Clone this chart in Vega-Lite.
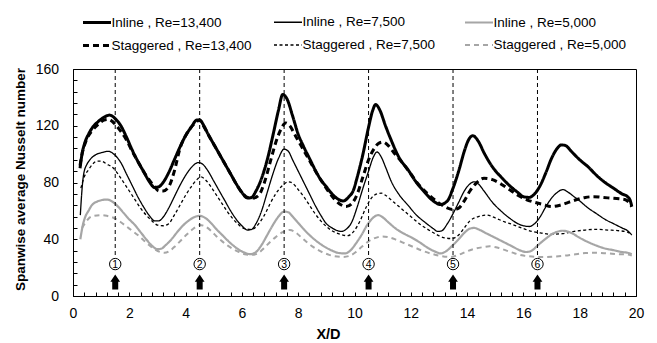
{
  "$schema": "https://vega.github.io/schema/vega-lite/v6.json",
  "autosize": "none",
  "padding": {"left": 73, "top": 69, "right": 21, "bottom": 47},
  "width": 563,
  "height": 227,
  "background": "white",
  "config": {
    "font": "Liberation Sans",
    "view": {"stroke": "black", "strokeWidth": 1},
    "axis": {"labelFont": "Liberation Sans", "titleFont": "Liberation Sans", "labelColor": "black", "titleColor": "black", "domainColor": "black", "tickColor": "black", "grid": false}
  },
  "resolve": {"axis": {"x": "independent", "y": "independent"}},
  "datasets": {
    "curves": [
      {"s":"Inline , Re=13,400","x":0.25,"y":90},{"s":"Inline , Re=13,400","x":0.32,"y":100},{"s":"Inline , Re=13,400","x":0.42,"y":108},{"s":"Inline , Re=13,400","x":0.55,"y":114},{"s":"Inline , Re=13,400","x":0.7,"y":119},{"s":"Inline , Re=13,400","x":0.9,"y":123},{"s":"Inline , Re=13,400","x":1.1,"y":126},{"s":"Inline , Re=13,400","x":1.3,"y":127.5},{"s":"Inline , Re=13,400","x":1.5,"y":125},{"s":"Inline , Re=13,400","x":1.7,"y":120},{"s":"Inline , Re=13,400","x":1.9,"y":112},{"s":"Inline , Re=13,400","x":2.1,"y":103},{"s":"Inline , Re=13,400","x":2.3,"y":95},{"s":"Inline , Re=13,400","x":2.5,"y":88},{"s":"Inline , Re=13,400","x":2.7,"y":81},{"s":"Inline , Re=13,400","x":2.9,"y":76.5},{"s":"Inline , Re=13,400","x":3.05,"y":77},{"s":"Inline , Re=13,400","x":3.2,"y":80},{"s":"Inline , Re=13,400","x":3.4,"y":87},{"s":"Inline , Re=13,400","x":3.6,"y":96},{"s":"Inline , Re=13,400","x":3.8,"y":105},{"s":"Inline , Re=13,400","x":4.0,"y":113},{"s":"Inline , Re=13,400","x":4.2,"y":119},{"s":"Inline , Re=13,400","x":4.4,"y":124},{"s":"Inline , Re=13,400","x":4.5,"y":124},{"s":"Inline , Re=13,400","x":4.65,"y":120},{"s":"Inline , Re=13,400","x":4.8,"y":114},{"s":"Inline , Re=13,400","x":5.0,"y":107},{"s":"Inline , Re=13,400","x":5.2,"y":100},{"s":"Inline , Re=13,400","x":5.4,"y":93},{"s":"Inline , Re=13,400","x":5.6,"y":86},{"s":"Inline , Re=13,400","x":5.8,"y":79},{"s":"Inline , Re=13,400","x":6.0,"y":73},{"s":"Inline , Re=13,400","x":6.2,"y":69},{"s":"Inline , Re=13,400","x":6.35,"y":69.5},{"s":"Inline , Re=13,400","x":6.5,"y":74},{"s":"Inline , Re=13,400","x":6.7,"y":83},{"s":"Inline , Re=13,400","x":6.9,"y":96},{"s":"Inline , Re=13,400","x":7.1,"y":113},{"s":"Inline , Re=13,400","x":7.3,"y":131},{"s":"Inline , Re=13,400","x":7.45,"y":142},{"s":"Inline , Re=13,400","x":7.6,"y":139},{"s":"Inline , Re=13,400","x":7.8,"y":127},{"s":"Inline , Re=13,400","x":8.0,"y":114},{"s":"Inline , Re=13,400","x":8.2,"y":105},{"s":"Inline , Re=13,400","x":8.4,"y":97},{"s":"Inline , Re=13,400","x":8.6,"y":89},{"s":"Inline , Re=13,400","x":8.8,"y":82},{"s":"Inline , Re=13,400","x":9.0,"y":77},{"s":"Inline , Re=13,400","x":9.2,"y":72},{"s":"Inline , Re=13,400","x":9.4,"y":68.5},{"s":"Inline , Re=13,400","x":9.6,"y":67},{"s":"Inline , Re=13,400","x":9.8,"y":70},{"s":"Inline , Re=13,400","x":9.95,"y":74},{"s":"Inline , Re=13,400","x":10.1,"y":84},{"s":"Inline , Re=13,400","x":10.3,"y":100},{"s":"Inline , Re=13,400","x":10.5,"y":119},{"s":"Inline , Re=13,400","x":10.65,"y":131},{"s":"Inline , Re=13,400","x":10.75,"y":135},{"s":"Inline , Re=13,400","x":10.9,"y":131},{"s":"Inline , Re=13,400","x":11.1,"y":120},{"s":"Inline , Re=13,400","x":11.3,"y":110},{"s":"Inline , Re=13,400","x":11.6,"y":97},{"s":"Inline , Re=13,400","x":11.9,"y":89},{"s":"Inline , Re=13,400","x":12.2,"y":80},{"s":"Inline , Re=13,400","x":12.5,"y":73},{"s":"Inline , Re=13,400","x":12.8,"y":67},{"s":"Inline , Re=13,400","x":13.05,"y":64.5},{"s":"Inline , Re=13,400","x":13.3,"y":67},{"s":"Inline , Re=13,400","x":13.5,"y":76},{"s":"Inline , Re=13,400","x":13.7,"y":88},{"s":"Inline , Re=13,400","x":13.9,"y":102},{"s":"Inline , Re=13,400","x":14.05,"y":110},{"s":"Inline , Re=13,400","x":14.2,"y":113},{"s":"Inline , Re=13,400","x":14.4,"y":109},{"s":"Inline , Re=13,400","x":14.6,"y":101},{"s":"Inline , Re=13,400","x":14.9,"y":91},{"s":"Inline , Re=13,400","x":15.2,"y":84},{"s":"Inline , Re=13,400","x":15.5,"y":78},{"s":"Inline , Re=13,400","x":15.8,"y":73},{"s":"Inline , Re=13,400","x":16.0,"y":70},{"s":"Inline , Re=13,400","x":16.2,"y":69.5},{"s":"Inline , Re=13,400","x":16.4,"y":72},{"s":"Inline , Re=13,400","x":16.6,"y":78},{"s":"Inline , Re=13,400","x":16.8,"y":87},{"s":"Inline , Re=13,400","x":17.0,"y":97},{"s":"Inline , Re=13,400","x":17.2,"y":104},{"s":"Inline , Re=13,400","x":17.35,"y":106.5},{"s":"Inline , Re=13,400","x":17.5,"y":106},{"s":"Inline , Re=13,400","x":17.7,"y":102},{"s":"Inline , Re=13,400","x":18.0,"y":96},{"s":"Inline , Re=13,400","x":18.3,"y":91},{"s":"Inline , Re=13,400","x":18.6,"y":85},{"s":"Inline , Re=13,400","x":18.9,"y":80},{"s":"Inline , Re=13,400","x":19.2,"y":76},{"s":"Inline , Re=13,400","x":19.5,"y":72},{"s":"Inline , Re=13,400","x":19.7,"y":70},{"s":"Inline , Re=13,400","x":19.8,"y":67},{"s":"Inline , Re=13,400","x":19.85,"y":63},

      {"s":"Staggered , Re=13,400","x":0.25,"y":92},{"s":"Staggered , Re=13,400","x":0.32,"y":100},{"s":"Staggered , Re=13,400","x":0.42,"y":107},{"s":"Staggered , Re=13,400","x":0.55,"y":113},{"s":"Staggered , Re=13,400","x":0.7,"y":117},{"s":"Staggered , Re=13,400","x":0.9,"y":121},{"s":"Staggered , Re=13,400","x":1.1,"y":124},{"s":"Staggered , Re=13,400","x":1.25,"y":124.5},{"s":"Staggered , Re=13,400","x":1.4,"y":123},{"s":"Staggered , Re=13,400","x":1.5,"y":121},{"s":"Staggered , Re=13,400","x":1.7,"y":116},{"s":"Staggered , Re=13,400","x":1.9,"y":110},{"s":"Staggered , Re=13,400","x":2.1,"y":102},{"s":"Staggered , Re=13,400","x":2.3,"y":95},{"s":"Staggered , Re=13,400","x":2.5,"y":88},{"s":"Staggered , Re=13,400","x":2.7,"y":82},{"s":"Staggered , Re=13,400","x":2.9,"y":77},{"s":"Staggered , Re=13,400","x":3.05,"y":74},{"s":"Staggered , Re=13,400","x":3.2,"y":74},{"s":"Staggered , Re=13,400","x":3.4,"y":77},{"s":"Staggered , Re=13,400","x":3.6,"y":88},{"s":"Staggered , Re=13,400","x":3.8,"y":104},{"s":"Staggered , Re=13,400","x":4.0,"y":113},{"s":"Staggered , Re=13,400","x":4.2,"y":119},{"s":"Staggered , Re=13,400","x":4.35,"y":122},{"s":"Staggered , Re=13,400","x":4.5,"y":124},{"s":"Staggered , Re=13,400","x":4.6,"y":121},{"s":"Staggered , Re=13,400","x":4.8,"y":114},{"s":"Staggered , Re=13,400","x":5.0,"y":107},{"s":"Staggered , Re=13,400","x":5.2,"y":100},{"s":"Staggered , Re=13,400","x":5.4,"y":93},{"s":"Staggered , Re=13,400","x":5.6,"y":86},{"s":"Staggered , Re=13,400","x":5.8,"y":79},{"s":"Staggered , Re=13,400","x":6.0,"y":73},{"s":"Staggered , Re=13,400","x":6.2,"y":69.5},{"s":"Staggered , Re=13,400","x":6.4,"y":69},{"s":"Staggered , Re=13,400","x":6.6,"y":71},{"s":"Staggered , Re=13,400","x":6.8,"y":80},{"s":"Staggered , Re=13,400","x":7.0,"y":94},{"s":"Staggered , Re=13,400","x":7.2,"y":108},{"s":"Staggered , Re=13,400","x":7.4,"y":118},{"s":"Staggered , Re=13,400","x":7.55,"y":122},{"s":"Staggered , Re=13,400","x":7.7,"y":120},{"s":"Staggered , Re=13,400","x":7.9,"y":113},{"s":"Staggered , Re=13,400","x":8.1,"y":106},{"s":"Staggered , Re=13,400","x":8.3,"y":99},{"s":"Staggered , Re=13,400","x":8.5,"y":92},{"s":"Staggered , Re=13,400","x":8.7,"y":85},{"s":"Staggered , Re=13,400","x":8.9,"y":79},{"s":"Staggered , Re=13,400","x":9.1,"y":73},{"s":"Staggered , Re=13,400","x":9.3,"y":68},{"s":"Staggered , Re=13,400","x":9.5,"y":64.5},{"s":"Staggered , Re=13,400","x":9.7,"y":63},{"s":"Staggered , Re=13,400","x":9.9,"y":65},{"s":"Staggered , Re=13,400","x":10.1,"y":72},{"s":"Staggered , Re=13,400","x":10.3,"y":84},{"s":"Staggered , Re=13,400","x":10.5,"y":96},{"s":"Staggered , Re=13,400","x":10.7,"y":104},{"s":"Staggered , Re=13,400","x":10.85,"y":107.5},{"s":"Staggered , Re=13,400","x":11.0,"y":108.5},{"s":"Staggered , Re=13,400","x":11.2,"y":106},{"s":"Staggered , Re=13,400","x":11.4,"y":101},{"s":"Staggered , Re=13,400","x":11.7,"y":94},{"s":"Staggered , Re=13,400","x":12.0,"y":86},{"s":"Staggered , Re=13,400","x":12.3,"y":78},{"s":"Staggered , Re=13,400","x":12.6,"y":72},{"s":"Staggered , Re=13,400","x":12.9,"y":67},{"s":"Staggered , Re=13,400","x":13.2,"y":63},{"s":"Staggered , Re=13,400","x":13.5,"y":61},{"s":"Staggered , Re=13,400","x":13.7,"y":62},{"s":"Staggered , Re=13,400","x":13.9,"y":67},{"s":"Staggered , Re=13,400","x":14.1,"y":74},{"s":"Staggered , Re=13,400","x":14.3,"y":79},{"s":"Staggered , Re=13,400","x":14.6,"y":83},{"s":"Staggered , Re=13,400","x":14.9,"y":82},{"s":"Staggered , Re=13,400","x":15.2,"y":79},{"s":"Staggered , Re=13,400","x":15.5,"y":75},{"s":"Staggered , Re=13,400","x":15.8,"y":71},{"s":"Staggered , Re=13,400","x":16.1,"y":68},{"s":"Staggered , Re=13,400","x":16.4,"y":66},{"s":"Staggered , Re=13,400","x":16.7,"y":64.5},{"s":"Staggered , Re=13,400","x":17.0,"y":63},{"s":"Staggered , Re=13,400","x":17.3,"y":64},{"s":"Staggered , Re=13,400","x":17.6,"y":66},{"s":"Staggered , Re=13,400","x":17.9,"y":68},{"s":"Staggered , Re=13,400","x":18.2,"y":69.5},{"s":"Staggered , Re=13,400","x":18.5,"y":70},{"s":"Staggered , Re=13,400","x":18.8,"y":69.5},{"s":"Staggered , Re=13,400","x":19.1,"y":69},{"s":"Staggered , Re=13,400","x":19.4,"y":68.5},{"s":"Staggered , Re=13,400","x":19.6,"y":68},{"s":"Staggered , Re=13,400","x":19.75,"y":66},{"s":"Staggered , Re=13,400","x":19.85,"y":63},

      {"s":"Inline , Re=7,500","x":0.26,"y":57},{"s":"Inline , Re=7,500","x":0.32,"y":75},{"s":"Inline , Re=7,500","x":0.38,"y":86},{"s":"Inline , Re=7,500","x":0.5,"y":93},{"s":"Inline , Re=7,500","x":0.6,"y":96},{"s":"Inline , Re=7,500","x":0.8,"y":99.5},{"s":"Inline , Re=7,500","x":1.0,"y":101},{"s":"Inline , Re=7,500","x":1.25,"y":102},{"s":"Inline , Re=7,500","x":1.45,"y":100},{"s":"Inline , Re=7,500","x":1.7,"y":94},{"s":"Inline , Re=7,500","x":1.9,"y":86},{"s":"Inline , Re=7,500","x":2.1,"y":78},{"s":"Inline , Re=7,500","x":2.3,"y":70},{"s":"Inline , Re=7,500","x":2.5,"y":63},{"s":"Inline , Re=7,500","x":2.7,"y":57},{"s":"Inline , Re=7,500","x":2.9,"y":53},{"s":"Inline , Re=7,500","x":3.05,"y":53},{"s":"Inline , Re=7,500","x":3.2,"y":55.5},{"s":"Inline , Re=7,500","x":3.4,"y":62},{"s":"Inline , Re=7,500","x":3.6,"y":70},{"s":"Inline , Re=7,500","x":3.8,"y":78},{"s":"Inline , Re=7,500","x":4.0,"y":85},{"s":"Inline , Re=7,500","x":4.2,"y":90.5},{"s":"Inline , Re=7,500","x":4.45,"y":94},{"s":"Inline , Re=7,500","x":4.6,"y":93},{"s":"Inline , Re=7,500","x":4.8,"y":88},{"s":"Inline , Re=7,500","x":5.0,"y":81},{"s":"Inline , Re=7,500","x":5.2,"y":74},{"s":"Inline , Re=7,500","x":5.4,"y":67},{"s":"Inline , Re=7,500","x":5.6,"y":60},{"s":"Inline , Re=7,500","x":5.8,"y":54},{"s":"Inline , Re=7,500","x":6.0,"y":49.5},{"s":"Inline , Re=7,500","x":6.2,"y":46.5},{"s":"Inline , Re=7,500","x":6.35,"y":47},{"s":"Inline , Re=7,500","x":6.5,"y":51},{"s":"Inline , Re=7,500","x":6.7,"y":60},{"s":"Inline , Re=7,500","x":6.9,"y":73},{"s":"Inline , Re=7,500","x":7.1,"y":86},{"s":"Inline , Re=7,500","x":7.3,"y":97},{"s":"Inline , Re=7,500","x":7.5,"y":103.5},{"s":"Inline , Re=7,500","x":7.65,"y":102},{"s":"Inline , Re=7,500","x":7.8,"y":96},{"s":"Inline , Re=7,500","x":8.0,"y":88},{"s":"Inline , Re=7,500","x":8.2,"y":80},{"s":"Inline , Re=7,500","x":8.4,"y":72},{"s":"Inline , Re=7,500","x":8.6,"y":64},{"s":"Inline , Re=7,500","x":8.8,"y":57},{"s":"Inline , Re=7,500","x":9.0,"y":51},{"s":"Inline , Re=7,500","x":9.2,"y":48},{"s":"Inline , Re=7,500","x":9.4,"y":46},{"s":"Inline , Re=7,500","x":9.55,"y":45.5},{"s":"Inline , Re=7,500","x":9.7,"y":47},{"s":"Inline , Re=7,500","x":9.9,"y":52},{"s":"Inline , Re=7,500","x":10.1,"y":63},{"s":"Inline , Re=7,500","x":10.3,"y":76},{"s":"Inline , Re=7,500","x":10.5,"y":88},{"s":"Inline , Re=7,500","x":10.65,"y":97},{"s":"Inline , Re=7,500","x":10.8,"y":101.5},{"s":"Inline , Re=7,500","x":10.95,"y":98},{"s":"Inline , Re=7,500","x":11.1,"y":91},{"s":"Inline , Re=7,500","x":11.3,"y":81},{"s":"Inline , Re=7,500","x":11.6,"y":71},{"s":"Inline , Re=7,500","x":11.9,"y":64},{"s":"Inline , Re=7,500","x":12.2,"y":57},{"s":"Inline , Re=7,500","x":12.5,"y":52},{"s":"Inline , Re=7,500","x":12.8,"y":47.5},{"s":"Inline , Re=7,500","x":12.95,"y":45.5},{"s":"Inline , Re=7,500","x":13.1,"y":46},{"s":"Inline , Re=7,500","x":13.3,"y":51},{"s":"Inline , Re=7,500","x":13.5,"y":58},{"s":"Inline , Re=7,500","x":13.7,"y":66},{"s":"Inline , Re=7,500","x":13.9,"y":74},{"s":"Inline , Re=7,500","x":14.1,"y":79},{"s":"Inline , Re=7,500","x":14.25,"y":80.5},{"s":"Inline , Re=7,500","x":14.4,"y":79},{"s":"Inline , Re=7,500","x":14.6,"y":74},{"s":"Inline , Re=7,500","x":14.9,"y":66},{"s":"Inline , Re=7,500","x":15.2,"y":60},{"s":"Inline , Re=7,500","x":15.5,"y":55},{"s":"Inline , Re=7,500","x":15.8,"y":51},{"s":"Inline , Re=7,500","x":16.0,"y":49.5},{"s":"Inline , Re=7,500","x":16.2,"y":49},{"s":"Inline , Re=7,500","x":16.4,"y":51},{"s":"Inline , Re=7,500","x":16.6,"y":56},{"s":"Inline , Re=7,500","x":16.8,"y":63},{"s":"Inline , Re=7,500","x":17.0,"y":69},{"s":"Inline , Re=7,500","x":17.2,"y":73},{"s":"Inline , Re=7,500","x":17.4,"y":75},{"s":"Inline , Re=7,500","x":17.6,"y":73},{"s":"Inline , Re=7,500","x":17.8,"y":70},{"s":"Inline , Re=7,500","x":18.0,"y":67},{"s":"Inline , Re=7,500","x":18.3,"y":62},{"s":"Inline , Re=7,500","x":18.6,"y":58},{"s":"Inline , Re=7,500","x":18.9,"y":54},{"s":"Inline , Re=7,500","x":19.2,"y":51},{"s":"Inline , Re=7,500","x":19.5,"y":48},{"s":"Inline , Re=7,500","x":19.7,"y":46},{"s":"Inline , Re=7,500","x":19.85,"y":43},

      {"s":"Staggered , Re=7,500","x":0.28,"y":76},{"s":"Staggered , Re=7,500","x":0.4,"y":84},{"s":"Staggered , Re=7,500","x":0.55,"y":89},{"s":"Staggered , Re=7,500","x":0.7,"y":93},{"s":"Staggered , Re=7,500","x":0.85,"y":95},{"s":"Staggered , Re=7,500","x":1.0,"y":95},{"s":"Staggered , Re=7,500","x":1.2,"y":93},{"s":"Staggered , Re=7,500","x":1.44,"y":90},{"s":"Staggered , Re=7,500","x":1.6,"y":86},{"s":"Staggered , Re=7,500","x":1.8,"y":80},{"s":"Staggered , Re=7,500","x":2.0,"y":74},{"s":"Staggered , Re=7,500","x":2.2,"y":68},{"s":"Staggered , Re=7,500","x":2.4,"y":62},{"s":"Staggered , Re=7,500","x":2.6,"y":57},{"s":"Staggered , Re=7,500","x":2.8,"y":53},{"s":"Staggered , Re=7,500","x":3.0,"y":50},{"s":"Staggered , Re=7,500","x":3.2,"y":49.5},{"s":"Staggered , Re=7,500","x":3.4,"y":51},{"s":"Staggered , Re=7,500","x":3.6,"y":57},{"s":"Staggered , Re=7,500","x":3.8,"y":64},{"s":"Staggered , Re=7,500","x":4.0,"y":71},{"s":"Staggered , Re=7,500","x":4.2,"y":77},{"s":"Staggered , Re=7,500","x":4.4,"y":82},{"s":"Staggered , Re=7,500","x":4.55,"y":84},{"s":"Staggered , Re=7,500","x":4.7,"y":82},{"s":"Staggered , Re=7,500","x":4.9,"y":77},{"s":"Staggered , Re=7,500","x":5.1,"y":71},{"s":"Staggered , Re=7,500","x":5.3,"y":65},{"s":"Staggered , Re=7,500","x":5.5,"y":59},{"s":"Staggered , Re=7,500","x":5.7,"y":54},{"s":"Staggered , Re=7,500","x":5.9,"y":50},{"s":"Staggered , Re=7,500","x":6.1,"y":47.5},{"s":"Staggered , Re=7,500","x":6.35,"y":47},{"s":"Staggered , Re=7,500","x":6.6,"y":51},{"s":"Staggered , Re=7,500","x":6.8,"y":57},{"s":"Staggered , Re=7,500","x":7.0,"y":65},{"s":"Staggered , Re=7,500","x":7.2,"y":72},{"s":"Staggered , Re=7,500","x":7.45,"y":78},{"s":"Staggered , Re=7,500","x":7.65,"y":80.5},{"s":"Staggered , Re=7,500","x":7.8,"y":79.5},{"s":"Staggered , Re=7,500","x":8.0,"y":75},{"s":"Staggered , Re=7,500","x":8.2,"y":70},{"s":"Staggered , Re=7,500","x":8.4,"y":64},{"s":"Staggered , Re=7,500","x":8.6,"y":58},{"s":"Staggered , Re=7,500","x":8.8,"y":53},{"s":"Staggered , Re=7,500","x":9.0,"y":49},{"s":"Staggered , Re=7,500","x":9.2,"y":46},{"s":"Staggered , Re=7,500","x":9.5,"y":43.5},{"s":"Staggered , Re=7,500","x":9.75,"y":42.5},{"s":"Staggered , Re=7,500","x":9.95,"y":45},{"s":"Staggered , Re=7,500","x":10.2,"y":53},{"s":"Staggered , Re=7,500","x":10.4,"y":62},{"s":"Staggered , Re=7,500","x":10.6,"y":69},{"s":"Staggered , Re=7,500","x":10.8,"y":72},{"s":"Staggered , Re=7,500","x":10.95,"y":72.5},{"s":"Staggered , Re=7,500","x":11.1,"y":71},{"s":"Staggered , Re=7,500","x":11.4,"y":66},{"s":"Staggered , Re=7,500","x":11.7,"y":61},{"s":"Staggered , Re=7,500","x":12.0,"y":56},{"s":"Staggered , Re=7,500","x":12.3,"y":51},{"s":"Staggered , Re=7,500","x":12.6,"y":47},{"s":"Staggered , Re=7,500","x":12.9,"y":43.5},{"s":"Staggered , Re=7,500","x":13.2,"y":41},{"s":"Staggered , Re=7,500","x":13.45,"y":40.5},{"s":"Staggered , Re=7,500","x":13.7,"y":43},{"s":"Staggered , Re=7,500","x":13.9,"y":48},{"s":"Staggered , Re=7,500","x":14.1,"y":53},{"s":"Staggered , Re=7,500","x":14.4,"y":56},{"s":"Staggered , Re=7,500","x":14.7,"y":57},{"s":"Staggered , Re=7,500","x":15.0,"y":55},{"s":"Staggered , Re=7,500","x":15.3,"y":52.5},{"s":"Staggered , Re=7,500","x":15.6,"y":50.5},{"s":"Staggered , Re=7,500","x":16.0,"y":47.5},{"s":"Staggered , Re=7,500","x":16.3,"y":45.5},{"s":"Staggered , Re=7,500","x":16.6,"y":44.5},{"s":"Staggered , Re=7,500","x":17.0,"y":43.5},{"s":"Staggered , Re=7,500","x":17.4,"y":44},{"s":"Staggered , Re=7,500","x":17.8,"y":45.5},{"s":"Staggered , Re=7,500","x":18.2,"y":46.5},{"s":"Staggered , Re=7,500","x":18.6,"y":47},{"s":"Staggered , Re=7,500","x":19.0,"y":46.5},{"s":"Staggered , Re=7,500","x":19.4,"y":46},{"s":"Staggered , Re=7,500","x":19.7,"y":45},{"s":"Staggered , Re=7,500","x":19.85,"y":43},

      {"s":"Inline , Re=5,000","x":0.26,"y":40},{"s":"Inline , Re=5,000","x":0.35,"y":50},{"s":"Inline , Re=5,000","x":0.44,"y":56},{"s":"Inline , Re=5,000","x":0.55,"y":60},{"s":"Inline , Re=5,000","x":0.67,"y":64},{"s":"Inline , Re=5,000","x":0.85,"y":66.5},{"s":"Inline , Re=5,000","x":1.0,"y":67.5},{"s":"Inline , Re=5,000","x":1.2,"y":68},{"s":"Inline , Re=5,000","x":1.4,"y":66.5},{"s":"Inline , Re=5,000","x":1.6,"y":63},{"s":"Inline , Re=5,000","x":1.8,"y":58.5},{"s":"Inline , Re=5,000","x":2.0,"y":54},{"s":"Inline , Re=5,000","x":2.2,"y":50},{"s":"Inline , Re=5,000","x":2.4,"y":45},{"s":"Inline , Re=5,000","x":2.6,"y":40},{"s":"Inline , Re=5,000","x":2.8,"y":35.5},{"s":"Inline , Re=5,000","x":3.0,"y":33},{"s":"Inline , Re=5,000","x":3.15,"y":33.5},{"s":"Inline , Re=5,000","x":3.3,"y":36},{"s":"Inline , Re=5,000","x":3.5,"y":40},{"s":"Inline , Re=5,000","x":3.7,"y":45},{"s":"Inline , Re=5,000","x":3.9,"y":49.5},{"s":"Inline , Re=5,000","x":4.1,"y":53},{"s":"Inline , Re=5,000","x":4.3,"y":55.5},{"s":"Inline , Re=5,000","x":4.5,"y":56.5},{"s":"Inline , Re=5,000","x":4.7,"y":55},{"s":"Inline , Re=5,000","x":4.9,"y":51.5},{"s":"Inline , Re=5,000","x":5.1,"y":47},{"s":"Inline , Re=5,000","x":5.3,"y":43},{"s":"Inline , Re=5,000","x":5.5,"y":39},{"s":"Inline , Re=5,000","x":5.7,"y":35.5},{"s":"Inline , Re=5,000","x":5.9,"y":32.5},{"s":"Inline , Re=5,000","x":6.1,"y":30.5},{"s":"Inline , Re=5,000","x":6.3,"y":29.5},{"s":"Inline , Re=5,000","x":6.5,"y":31},{"s":"Inline , Re=5,000","x":6.7,"y":36},{"s":"Inline , Re=5,000","x":6.9,"y":43},{"s":"Inline , Re=5,000","x":7.1,"y":50},{"s":"Inline , Re=5,000","x":7.3,"y":56},{"s":"Inline , Re=5,000","x":7.5,"y":59.5},{"s":"Inline , Re=5,000","x":7.65,"y":59},{"s":"Inline , Re=5,000","x":7.8,"y":56},{"s":"Inline , Re=5,000","x":8.0,"y":51.5},{"s":"Inline , Re=5,000","x":8.2,"y":47},{"s":"Inline , Re=5,000","x":8.4,"y":43},{"s":"Inline , Re=5,000","x":8.6,"y":39.5},{"s":"Inline , Re=5,000","x":8.8,"y":36.5},{"s":"Inline , Re=5,000","x":9.0,"y":34},{"s":"Inline , Re=5,000","x":9.2,"y":32},{"s":"Inline , Re=5,000","x":9.4,"y":30.5},{"s":"Inline , Re=5,000","x":9.65,"y":30},{"s":"Inline , Re=5,000","x":9.85,"y":32},{"s":"Inline , Re=5,000","x":10.05,"y":37},{"s":"Inline , Re=5,000","x":10.25,"y":43},{"s":"Inline , Re=5,000","x":10.45,"y":50},{"s":"Inline , Re=5,000","x":10.65,"y":55},{"s":"Inline , Re=5,000","x":10.85,"y":57},{"s":"Inline , Re=5,000","x":11.0,"y":55.5},{"s":"Inline , Re=5,000","x":11.2,"y":52},{"s":"Inline , Re=5,000","x":11.5,"y":47},{"s":"Inline , Re=5,000","x":11.8,"y":43.5},{"s":"Inline , Re=5,000","x":12.0,"y":41.5},{"s":"Inline , Re=5,000","x":12.3,"y":38},{"s":"Inline , Re=5,000","x":12.6,"y":34},{"s":"Inline , Re=5,000","x":12.9,"y":31},{"s":"Inline , Re=5,000","x":13.05,"y":30},{"s":"Inline , Re=5,000","x":13.25,"y":31.5},{"s":"Inline , Re=5,000","x":13.5,"y":36},{"s":"Inline , Re=5,000","x":13.7,"y":40},{"s":"Inline , Re=5,000","x":13.9,"y":44.5},{"s":"Inline , Re=5,000","x":14.1,"y":47.5},{"s":"Inline , Re=5,000","x":14.25,"y":48},{"s":"Inline , Re=5,000","x":14.4,"y":47},{"s":"Inline , Re=5,000","x":14.7,"y":44},{"s":"Inline , Re=5,000","x":15.0,"y":41},{"s":"Inline , Re=5,000","x":15.3,"y":38},{"s":"Inline , Re=5,000","x":15.6,"y":35},{"s":"Inline , Re=5,000","x":15.9,"y":32},{"s":"Inline , Re=5,000","x":16.1,"y":31},{"s":"Inline , Re=5,000","x":16.3,"y":32},{"s":"Inline , Re=5,000","x":16.5,"y":35.5},{"s":"Inline , Re=5,000","x":16.8,"y":40.5},{"s":"Inline , Re=5,000","x":17.1,"y":44.5},{"s":"Inline , Re=5,000","x":17.4,"y":46},{"s":"Inline , Re=5,000","x":17.7,"y":44.5},{"s":"Inline , Re=5,000","x":18.0,"y":41},{"s":"Inline , Re=5,000","x":18.3,"y":38},{"s":"Inline , Re=5,000","x":18.6,"y":35.5},{"s":"Inline , Re=5,000","x":18.9,"y":33.5},{"s":"Inline , Re=5,000","x":19.2,"y":32.3},{"s":"Inline , Re=5,000","x":19.5,"y":31},{"s":"Inline , Re=5,000","x":19.7,"y":30.5},{"s":"Inline , Re=5,000","x":19.85,"y":29.5},

      {"s":"Staggered , Re=5,000","x":0.32,"y":48},{"s":"Staggered , Re=5,000","x":0.45,"y":52},{"s":"Staggered , Re=5,000","x":0.55,"y":54.5},{"s":"Staggered , Re=5,000","x":0.75,"y":56.5},{"s":"Staggered , Re=5,000","x":1.0,"y":57},{"s":"Staggered , Re=5,000","x":1.2,"y":56.5},{"s":"Staggered , Re=5,000","x":1.45,"y":55},{"s":"Staggered , Re=5,000","x":1.7,"y":52},{"s":"Staggered , Re=5,000","x":1.9,"y":49},{"s":"Staggered , Re=5,000","x":2.1,"y":46},{"s":"Staggered , Re=5,000","x":2.3,"y":43},{"s":"Staggered , Re=5,000","x":2.5,"y":39.5},{"s":"Staggered , Re=5,000","x":2.7,"y":36},{"s":"Staggered , Re=5,000","x":2.9,"y":33},{"s":"Staggered , Re=5,000","x":3.1,"y":31},{"s":"Staggered , Re=5,000","x":3.25,"y":30.5},{"s":"Staggered , Re=5,000","x":3.45,"y":32},{"s":"Staggered , Re=5,000","x":3.65,"y":35.5},{"s":"Staggered , Re=5,000","x":3.85,"y":39.5},{"s":"Staggered , Re=5,000","x":4.05,"y":43.5},{"s":"Staggered , Re=5,000","x":4.25,"y":47},{"s":"Staggered , Re=5,000","x":4.5,"y":50},{"s":"Staggered , Re=5,000","x":4.7,"y":49},{"s":"Staggered , Re=5,000","x":4.9,"y":46},{"s":"Staggered , Re=5,000","x":5.1,"y":42},{"s":"Staggered , Re=5,000","x":5.3,"y":38.5},{"s":"Staggered , Re=5,000","x":5.5,"y":35.5},{"s":"Staggered , Re=5,000","x":5.7,"y":33},{"s":"Staggered , Re=5,000","x":5.9,"y":31},{"s":"Staggered , Re=5,000","x":6.1,"y":29.5},{"s":"Staggered , Re=5,000","x":6.35,"y":29},{"s":"Staggered , Re=5,000","x":6.6,"y":30.5},{"s":"Staggered , Re=5,000","x":6.8,"y":34},{"s":"Staggered , Re=5,000","x":7.0,"y":38},{"s":"Staggered , Re=5,000","x":7.2,"y":41.5},{"s":"Staggered , Re=5,000","x":7.45,"y":45},{"s":"Staggered , Re=5,000","x":7.7,"y":46.5},{"s":"Staggered , Re=5,000","x":7.9,"y":45},{"s":"Staggered , Re=5,000","x":8.1,"y":41.5},{"s":"Staggered , Re=5,000","x":8.3,"y":38},{"s":"Staggered , Re=5,000","x":8.5,"y":35},{"s":"Staggered , Re=5,000","x":8.7,"y":32.5},{"s":"Staggered , Re=5,000","x":8.9,"y":30.5},{"s":"Staggered , Re=5,000","x":9.1,"y":29},{"s":"Staggered , Re=5,000","x":9.3,"y":28},{"s":"Staggered , Re=5,000","x":9.6,"y":27.5},{"s":"Staggered , Re=5,000","x":9.85,"y":28.5},{"s":"Staggered , Re=5,000","x":10.05,"y":31},{"s":"Staggered , Re=5,000","x":10.25,"y":34.5},{"s":"Staggered , Re=5,000","x":10.5,"y":38.5},{"s":"Staggered , Re=5,000","x":10.75,"y":41},{"s":"Staggered , Re=5,000","x":11.0,"y":42},{"s":"Staggered , Re=5,000","x":11.2,"y":41.5},{"s":"Staggered , Re=5,000","x":11.5,"y":39.5},{"s":"Staggered , Re=5,000","x":11.8,"y":37},{"s":"Staggered , Re=5,000","x":12.1,"y":34.5},{"s":"Staggered , Re=5,000","x":12.4,"y":32},{"s":"Staggered , Re=5,000","x":12.7,"y":30},{"s":"Staggered , Re=5,000","x":13.0,"y":28.5},{"s":"Staggered , Re=5,000","x":13.4,"y":27.5},{"s":"Staggered , Re=5,000","x":13.7,"y":29},{"s":"Staggered , Re=5,000","x":14.0,"y":31.5},{"s":"Staggered , Re=5,000","x":14.3,"y":33.5},{"s":"Staggered , Re=5,000","x":14.6,"y":34.5},{"s":"Staggered , Re=5,000","x":14.8,"y":35},{"s":"Staggered , Re=5,000","x":15.1,"y":34},{"s":"Staggered , Re=5,000","x":15.4,"y":32},{"s":"Staggered , Re=5,000","x":15.7,"y":30},{"s":"Staggered , Re=5,000","x":16.0,"y":28.5},{"s":"Staggered , Re=5,000","x":16.3,"y":27.8},{"s":"Staggered , Re=5,000","x":16.6,"y":27.5},{"s":"Staggered , Re=5,000","x":17.0,"y":27.7},{"s":"Staggered , Re=5,000","x":17.4,"y":28.3},{"s":"Staggered , Re=5,000","x":17.8,"y":29.3},{"s":"Staggered , Re=5,000","x":18.2,"y":30.3},{"s":"Staggered , Re=5,000","x":18.6,"y":30.5},{"s":"Staggered , Re=5,000","x":19.0,"y":30},{"s":"Staggered , Re=5,000","x":19.4,"y":29.5},{"s":"Staggered , Re=5,000","x":19.7,"y":29.3},{"s":"Staggered , Re=5,000","x":19.85,"y":28.5}
    ],
    "marks": [
      {"n":"1","x":1.5},{"n":"2","x":4.5},{"n":"3","x":7.5},{"n":"4","x":10.5},{"n":"5","x":13.5},{"n":"6","x":16.5}
    ]
  },
  "layer": [
    {
      "data": {"name": "curves"},
      "mark": {"type": "line", "interpolate": "monotone", "clip": true},
      "encoding": {
        "x": {
          "field": "x", "type": "quantitative",
          "scale": {"domain": [0, 20], "nice": false, "zero": false},
          "axis": {
            "orient": "bottom",
            "title": "X/D",
            "values": [0,0.4,0.8,1.2,1.6,2,2.4,2.8,3.2,3.6,4,4.4,4.8,5.2,5.6,6,6.4,6.8,7.2,7.6,8,8.4,8.8,9.2,9.6,10,10.4,10.8,11.2,11.6,12,12.4,12.8,13.2,13.6,14,14.4,14.8,15.2,15.6,16,16.4,16.8,17.2,17.6,18,18.4,18.8,19.2,19.6,20],
            "labels": false,
            "tickSize": -4, "tickWidth": 1, "domainWidth": 1,
            "titleFontSize": 14.5, "titleFontWeight": "bold",
            "titleX": 255, "titleY": 38, "titleAlign": "center", "titleBaseline": "middle", "titleAnchor": null
          }
        },
        "y": {
          "field": "y", "type": "quantitative",
          "scale": {"domain": [0, 160], "nice": false},
          "axis": {
            "orient": "left",
            "title": "Spanwise  average Nusselt number",
            "values": [0,8,16,24,32,40,48,56,64,72,80,88,96,104,112,120,128,136,144,152,160],
            "labels": false,
            "tickSize": -4, "tickWidth": 1, "domainWidth": 1,
            "titleFontSize": 13.5, "titleFontWeight": "bold",
            "titleX": -53, "titleY": 110, "titleAngle": -90, "titleAlign": "center", "titleBaseline": "middle", "titleAnchor": null
          }
        },
        "color": {
          "field": "s", "type": "nominal",
          "scale": {
            "domain": ["Inline , Re=13,400","Staggered , Re=13,400","Inline , Re=7,500","Staggered , Re=7,500","Inline , Re=5,000","Staggered , Re=5,000"],
            "range": ["#000000","#000000","#000000","#000000","#a6a6a6","#a6a6a6"]
          },
          "legend": {
            "title": null, "orient": "none", "legendX": 8.5, "legendY": -62,
            "columns": 3, "gridAlign": "all", "columnPadding": 18, "rowPadding": 1,
            "symbolType": "stroke", "symbolSize": 784, "labelFontSize": 13.5, "labelFont": "Liberation Sans", "labelColor": "black", "labelOffset": -1, "labelLimit": 300
          }
        },
        "strokeDash": {
          "field": "s", "type": "nominal",
          "scale": {
            "domain": ["Inline , Re=13,400","Staggered , Re=13,400","Inline , Re=7,500","Staggered , Re=7,500","Inline , Re=5,000","Staggered , Re=5,000"],
            "range": [[1,0],[6,4],[1,0],[3,2.5],[1,0],[5,4]]
          }
        },
        "strokeWidth": {
          "field": "s", "type": "nominal",
          "scale": {
            "type": "ordinal",
            "domain": ["Inline , Re=13,400","Staggered , Re=13,400","Inline , Re=7,500","Staggered , Re=7,500","Inline , Re=5,000","Staggered , Re=5,000"],
            "range": [3, 3, 1.3, 1.3, 2.2, 2]
          }
        }
      }
    },
    {
      "data": {"name": "marks"},
      "mark": {"type": "rule", "color": "black", "strokeWidth": 1, "strokeDash": [4, 3]},
      "encoding": {
        "x": {
          "field": "x", "type": "quantitative",
          "axis": {
            "orient": "bottom", "title": null,
            "values": [0,2,4,6,8,10,12,14,16,18,20],
            "ticks": false, "domain": false,
            "labelFontSize": 14, "labelPadding": 10, "labelFlush": false, "labelOverlap": false, "format": "d"
          }
        },
        "y": {
          "datum": 160,
          "axis": {
            "orient": "left", "title": null,
            "values": [0,40,80,120,160],
            "ticks": false, "domain": false,
            "labelFontSize": 14, "labelPadding": 14.5, "labelFlush": false, "labelOverlap": false, "format": "d"
          }
        },
        "y2": {"datum": 27}
      }
    },
    {
      "data": {"name": "marks"},
      "mark": {"type": "point", "shape": "circle", "filled": true, "fill": "white", "stroke": "black", "strokeWidth": 1, "size": 130, "opacity": 1},
      "encoding": {
        "x": {"field": "x", "type": "quantitative", "axis": null},
        "y": {"datum": 22.5, "axis": null}
      }
    },
    {
      "data": {"name": "marks"},
      "mark": {"type": "text", "font": "Liberation Sans", "fontSize": 10.5, "color": "black", "align": "center", "baseline": "middle", "dy": 0.5},
      "encoding": {
        "x": {"field": "x", "type": "quantitative", "axis": null},
        "y": {"datum": 22.5, "axis": null},
        "text": {"field": "n"}
      }
    },
    {
      "data": {"name": "marks"},
      "mark": {"type": "point", "shape": "M0,-1L0.65,-0.06L0.4,-0.06L0.4,1L-0.4,1L-0.4,-0.06L-0.65,-0.06Z", "filled": true, "fill": "black", "strokeWidth": 0, "size": 225, "opacity": 1},
      "encoding": {
        "x": {"field": "x", "type": "quantitative", "axis": null},
        "y": {"datum": 9.8, "axis": null}
      }
    }
  ]
}
